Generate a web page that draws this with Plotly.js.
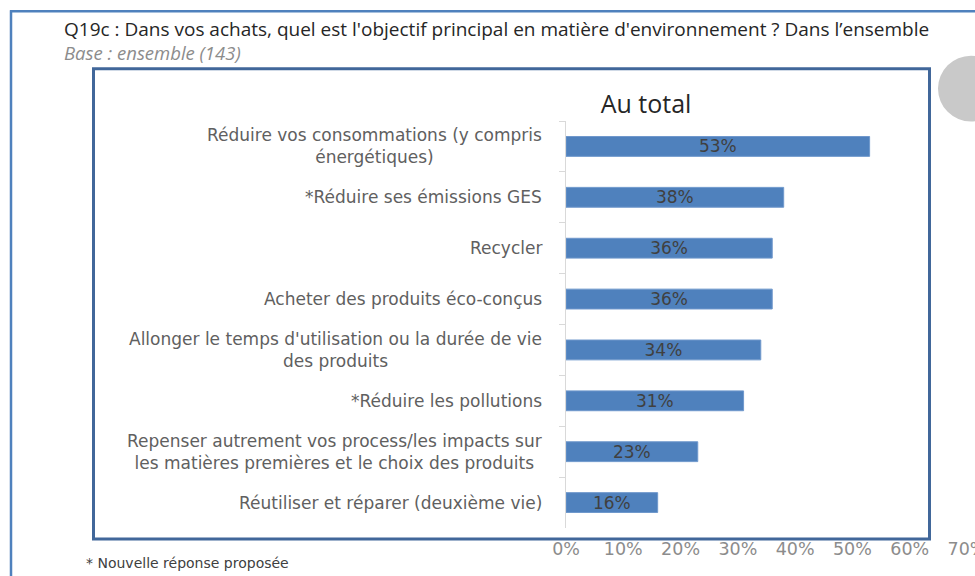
<!DOCTYPE html>
<html>
<head>
<meta charset="utf-8">
<script src="https://cdn.plot.ly/plotly-3.0.1.min.js"></script>
<style>html,body{margin:0;padding:0;background:#fff;}#chart{width:975px;height:576px;}</style>
</head>
<body>
<div id="chart"></div>
<script>
// ---- data ----
const categories = [
  "Réduire vos consommations (y compris<br>énergétiques)",
  "*Réduire ses émissions GES",
  "Recycler",
  "Acheter des produits éco-conçus",
  "Allonger le temps d'utilisation ou la durée de vie<br>des produits",
  "*Réduire les pollutions",
  "Repenser autrement vos process/les impacts sur<br>les matières premières et le choix des produits",
  "Réutiliser et réparer (deuxième vie)"
];
const values = [53, 38, 36, 36, 34, 31, 23, 16];
const valueLabels = ["53%", "38%", "36%", "36%", "34%", "31%", "23%", "16%"];
const xTickVals = [0, 10, 20, 30, 40, 50, 60, 70];
const xTickText = ["0%", "10%", "20%", "30%", "40%", "50%", "60%", "70%"];
const questionText = "Q19c : Dans vos achats, quel est l'objectif principal en matière d'environnement ? Dans l’ensemble";
const baseText = "Base : ensemble (143)";
const chartTitle = "Au total";
const footnote = "* Nouvelle réponse proposée";

// ---- layout geometry (pixels) ----
const WIDTH = 975, HEIGHT = 576;
const L = 566, R = 967, T = 120.5, B = 528.5;
const X = px => (px - L) / (R - L);
const Y = py => (B - py) / (B - T);

const labelFont = {family: "DejaVu Sans", size: 17, color: "#606060"};

const annotations = categories.map(c => ({
  xref: "paper", yref: "y", x: X(544), y: c,
  xanchor: "right", yanchor: "middle", align: "center",
  text: c, showarrow: false, font: labelFont
}));
annotations.push(
  {xref: "paper", yref: "paper", x: X(62), y: Y(28), xanchor: "left", yanchor: "middle",
   text: questionText, showarrow: false, font: {family: "Open Sans", size: 19, color: "#262626"}},
  {xref: "paper", yref: "paper", x: X(62), y: Y(51.5), xanchor: "left", yanchor: "middle",
   text: "<i>" + baseText + "</i>", showarrow: false, font: {family: "Open Sans", size: 18.5, color: "#8c8c8c"}},
  {xref: "paper", yref: "paper", x: X(84), y: Y(564), xanchor: "left", yanchor: "middle",
   text: footnote, showarrow: false, font: {family: "DejaVu Sans", size: 14, color: "#404040"}}
);

const shapes = [
  {type: "line", xref: "paper", yref: "paper", x0: X(11), x1: X(11), y0: Y(9.5), y1: Y(600),
   line: {color: "#4f81bd", width: 2.5}},
  {type: "line", xref: "paper", yref: "paper", x0: X(10), x1: X(1000), y0: Y(10.5), y1: Y(10.5),
   line: {color: "#4f81bd", width: 2.5}},
  {type: "rect", xref: "paper", yref: "paper", x0: X(93.5), x1: X(929.5), y0: Y(68), y1: Y(539.5),
   line: {color: "#41679a", width: 3}, fillcolor: "rgba(0,0,0,0)"},
  {type: "circle", xref: "paper", yref: "paper", x0: X(938), x1: X(1004), y0: Y(55), y1: Y(121),
   line: {width: 0}, fillcolor: "#c9c9c9"}
];

const trace = {
  type: "bar", orientation: "h",
  x: values, y: categories,
  text: valueLabels, textposition: "inside", insidetextanchor: "middle",
  constraintext: "none",
  textfont: {family: "DejaVu Sans", size: 17, color: "#404040"},
  marker: {color: "#4f81bd", line: {color: "#6f98cc", width: 1}},
  hoverinfo: "none", cliponaxis: false
};

const layout = {
  width: WIDTH, height: HEIGHT,
  margin: {l: L, r: WIDTH - R, t: T, b: HEIGHT - B, pad: 0},
  paper_bgcolor: "#ffffff", plot_bgcolor: "#ffffff",
  showlegend: false,
  bargap: 0.61,
  title: {text: chartTitle, x: 646 / WIDTH, xanchor: "center", xref: "container",
          y: 1 - 104.5 / HEIGHT, yanchor: "middle", yref: "container",
          font: {family: "Open Sans", size: 25, color: "#262626"}},
  xaxis: {range: [0, 70], tickvals: xTickVals, ticktext: xTickText, showgrid: false,
          zeroline: false, showline: false, ticks: "", fixedrange: true,
          ticklabeloverflow: "allow",
          tickfont: {family: "DejaVu Sans", size: 17.5, color: "#8c8c8c"}, ticklabelstandoff: 8},
  yaxis: {type: "category", categoryorder: "array", categoryarray: categories,
          autorange: "reversed", showticklabels: false, showgrid: false, zeroline: false,
          showline: true, linecolor: "#d9d9d9", linewidth: 1,
          ticks: "outside", tickson: "boundaries", ticklen: 6, tickcolor: "#d9d9d9", fixedrange: true},
  annotations: annotations,
  shapes: shapes
};

Plotly.newPlot("chart", [trace], layout, {displayModeBar: false, staticPlot: true});
</script>
</body>
</html>
